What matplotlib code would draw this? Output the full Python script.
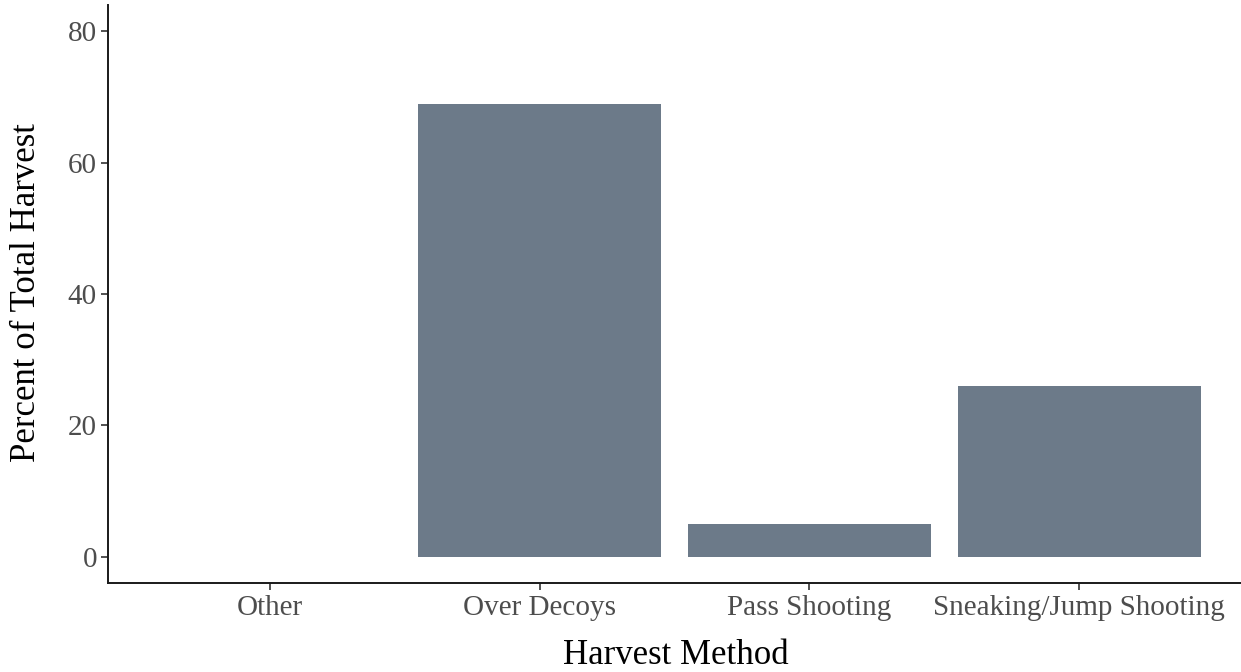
import matplotlib
matplotlib.use('Agg')
import matplotlib.pyplot as plt

methods = ['Other', 'Over Decoys', 'Pass Shooting', 'Sneaking/Jump Shooting']
percent = [0, 69, 5, 26]
yticks = [0, 20, 40, 60, 80]

plt.rcParams['font.family'] = ['Liberation Serif', 'DejaVu Serif']

W, H = 1241, 672
fig = plt.figure(figsize=(W / 100, H / 100), dpi=100)
ax = fig.add_axes([108 / W, 1 - 583 / H, 1 - 108 / W, 578 / H])

x = list(range(1, len(methods) + 1))
ax.bar(x, percent, width=0.9, color='#6C7A89')

ax.set_xlim(0.4, 4.6)
ax.set_ylim(-4, 84)
ax.set_xticks(x)
ax.set_xticklabels(methods)
ax.set_yticks(yticks)

ax.tick_params(axis='both', labelsize=21, labelcolor='#4D4D4D', color='#333333',
               length=5, width=1.2)
ax.tick_params(axis='y', pad=3)
for s in ['top', 'right']:
    ax.spines[s].set_visible(False)
for s in ['left', 'bottom']:
    ax.spines[s].set_linewidth(1.4)
    ax.spines[s].set_color('#1a1a1a')

# axis titles placed in figure pixels
fig.text(675.5 / W, 1 - 664 / H, 'Harvest Method', fontsize=25,
         ha='center', va='baseline')
fig.text(27 / W, 1 - 293 / H, 'Percent of Total Harvest', fontsize=25,
         rotation=90, ha='center', va='center')

fig.savefig('out.png', dpi=100)
